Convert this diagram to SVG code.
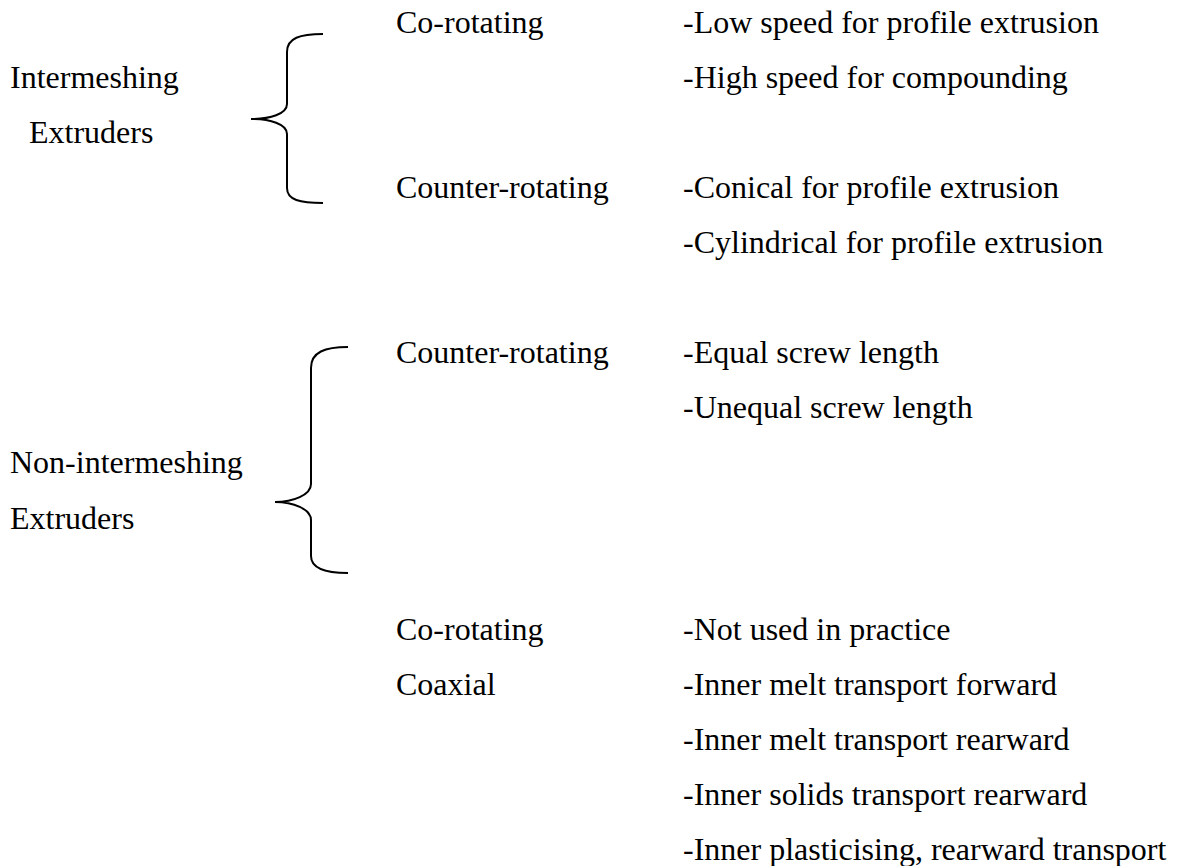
<svg xmlns="http://www.w3.org/2000/svg" width="1180" height="866" viewBox="0 0 1180 866">
<style>
text{font-family:"Liberation Serif","Times New Roman",serif;font-size:32px;fill:#000}
.brace{fill:none;stroke:#000;stroke-width:2}
</style>
<rect width="1180" height="866" fill="#fff"/>
<g id="intermeshing">
<text x="10" y="88">Intermeshing</text>
<text x="29" y="143">Extruders</text>
</g>
<g id="intermeshing-co">
<text x="396" y="33">Co-rotating</text>
<text x="683" y="33">-Low speed for profile extrusion</text>
<text x="683" y="88">-High speed for compounding</text>
</g>
<g id="intermeshing-counter">
<text x="396" y="198">Counter-rotating</text>
<text x="683" y="198">-Conical for profile extrusion</text>
<text x="683" y="253">-Cylindrical for profile extrusion</text>
</g>
<g id="nonintermeshing">
<text x="10" y="473">Non-intermeshing</text>
<text x="10" y="529">Extruders</text>
</g>
<g id="nonintermeshing-counter">
<text x="396" y="363">Counter-rotating</text>
<text x="683" y="363">-Equal screw length</text>
<text x="683" y="418">-Unequal screw length</text>
</g>
<g id="nonintermeshing-co">
<text x="396" y="640">Co-rotating</text>
<text x="683" y="640">-Not used in practice</text>
</g>
<g id="coaxial">
<text x="396" y="695">Coaxial</text>
<text x="683" y="695">-Inner melt transport forward</text>
<text x="683" y="750">-Inner melt transport rearward</text>
<text x="683" y="805">-Inner solids transport rearward</text>
<text x="683" y="860">-Inner plasticising, rearward transport</text>
</g>
<g id="connectors">
<path class="brace" d="M323,34 C300,34 287,38 287,52 L287,104 C287,114 270,119 251,119 C270,119 287,124 287,134 L287,188 C287,200 300,203 323,203"/>
<path class="brace" d="M348,347 C325,347 311,352 311,368 L311,484 C311,495 293,502 275,502 C293,502 311,509 311,520 L311,556 C311,568 325,573 348,573"/>
</g>
</svg>
